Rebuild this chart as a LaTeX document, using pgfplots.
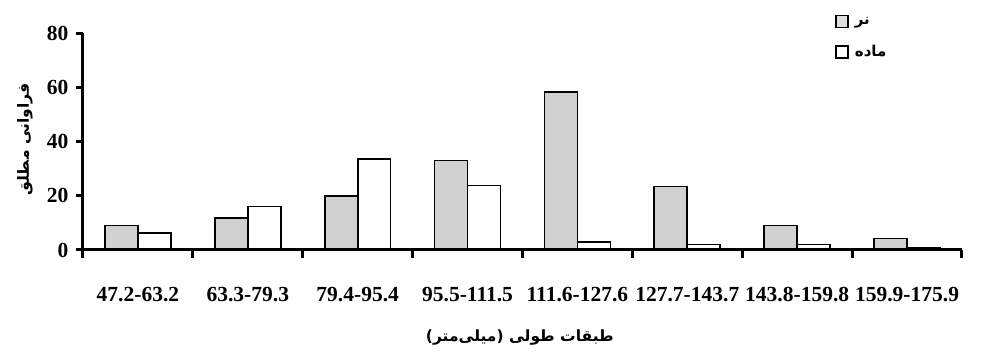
\documentclass[border=0pt]{standalone}
\usepackage{pgfplots}
\pgfplotsset{compat=1.18}
\usepackage{fontspec}
\setmainfont{Liberation Serif}
\newfontfamily\arabicfont[Script=Arabic]{DejaVu Sans}
\TeXXeTstate=1
\pgfplotsset{
  maleleg/.style={legend image code/.code={\draw[##1, fill=gray!25, line width=1.8pt] (0pt,-6pt) rectangle (12pt,6pt);}},
  femleg/.style={legend image code/.code={\draw[##1, line width=1.8pt] (0pt,-6pt) rectangle (12pt,6pt);}},
}
\begin{document}
\begin{tikzpicture}
\path (0,0) rectangle (989pt,353pt);
\begin{axis}[
  at={(83pt,103pt)}, anchor=south west,
  scale only axis, width=879pt, height=217pt,
  xmin=-0.5, xmax=7.5, ymin=0, ymax=80,
  ybar=0pt, bar width=0.3,
  axis on top,
  axis x line=bottom, axis y line=left,
  axis line style={line width=3pt, -},
  tick align=outside,
  xtick={0,...,7},
  xticklabels={47.2-63.2,63.3-79.3,79.4-95.4,95.5-111.5,111.6-127.6,127.7-143.7,143.8-159.8,159.9-175.9},
  major x tick style={draw=none},
  minor xtick={-0.5,0.5,1.5,2.5,3.5,4.5,5.5,6.5,7.5},
  minor x tick style={line width=3pt, black},
  minor tick length=8pt,
  ytick={0,20,40,60,80},
  major y tick style={line width=3pt, black},
  major tick length=7pt,
  tick label style={font=\bfseries\fontsize{21.5}{21.5}\selectfont},
  xticklabel style={yshift=-27pt},
  yticklabel style={xshift=-4pt},
  /pgf/number format/assume math mode=true,
  ylabel={\arabicfont\bfseries\fontsize{15.5}{15.5}\selectfont\beginR فراوانی مطلق\endR},
  ylabel style={at={(axis description cs:-0.066,0.51)}, anchor=center},
  xlabel={\arabicfont\bfseries\fontsize{15.5}{15.5}\selectfont\beginR طبقات طولی (میلی‌متر)\endR},
  xlabel style={at={(axis description cs:0.497,-0.405)}, anchor=center},
  legend style={at={(axis description cs:0.852,1.095)}, anchor=north west, draw=none, fill=none,
    font=\arabicfont\bfseries\fontsize{15}{15}\selectfont, row sep=15pt},
  legend cell align=left,
]
\addplot[draw=black, line width=1.7pt, fill=gray!36, maleleg]
  coordinates {(0,9) (1,11.8) (2,19.8) (3,33) (4,58.2) (5,23.4) (6,9) (7,4.2)};
\addlegendentry{\hspace{4pt}\beginR نر\endR}
\addplot[draw=black, line width=1.7pt, fill=white, femleg]
  coordinates {(0,6.3) (1,16) (2,33.6) (3,23.8) (4,3) (5,2) (6,2) (7,0.7)};
\addlegendentry{\hspace{4pt}\beginR ماده\endR}
\end{axis}
\end{tikzpicture}
\end{document}
